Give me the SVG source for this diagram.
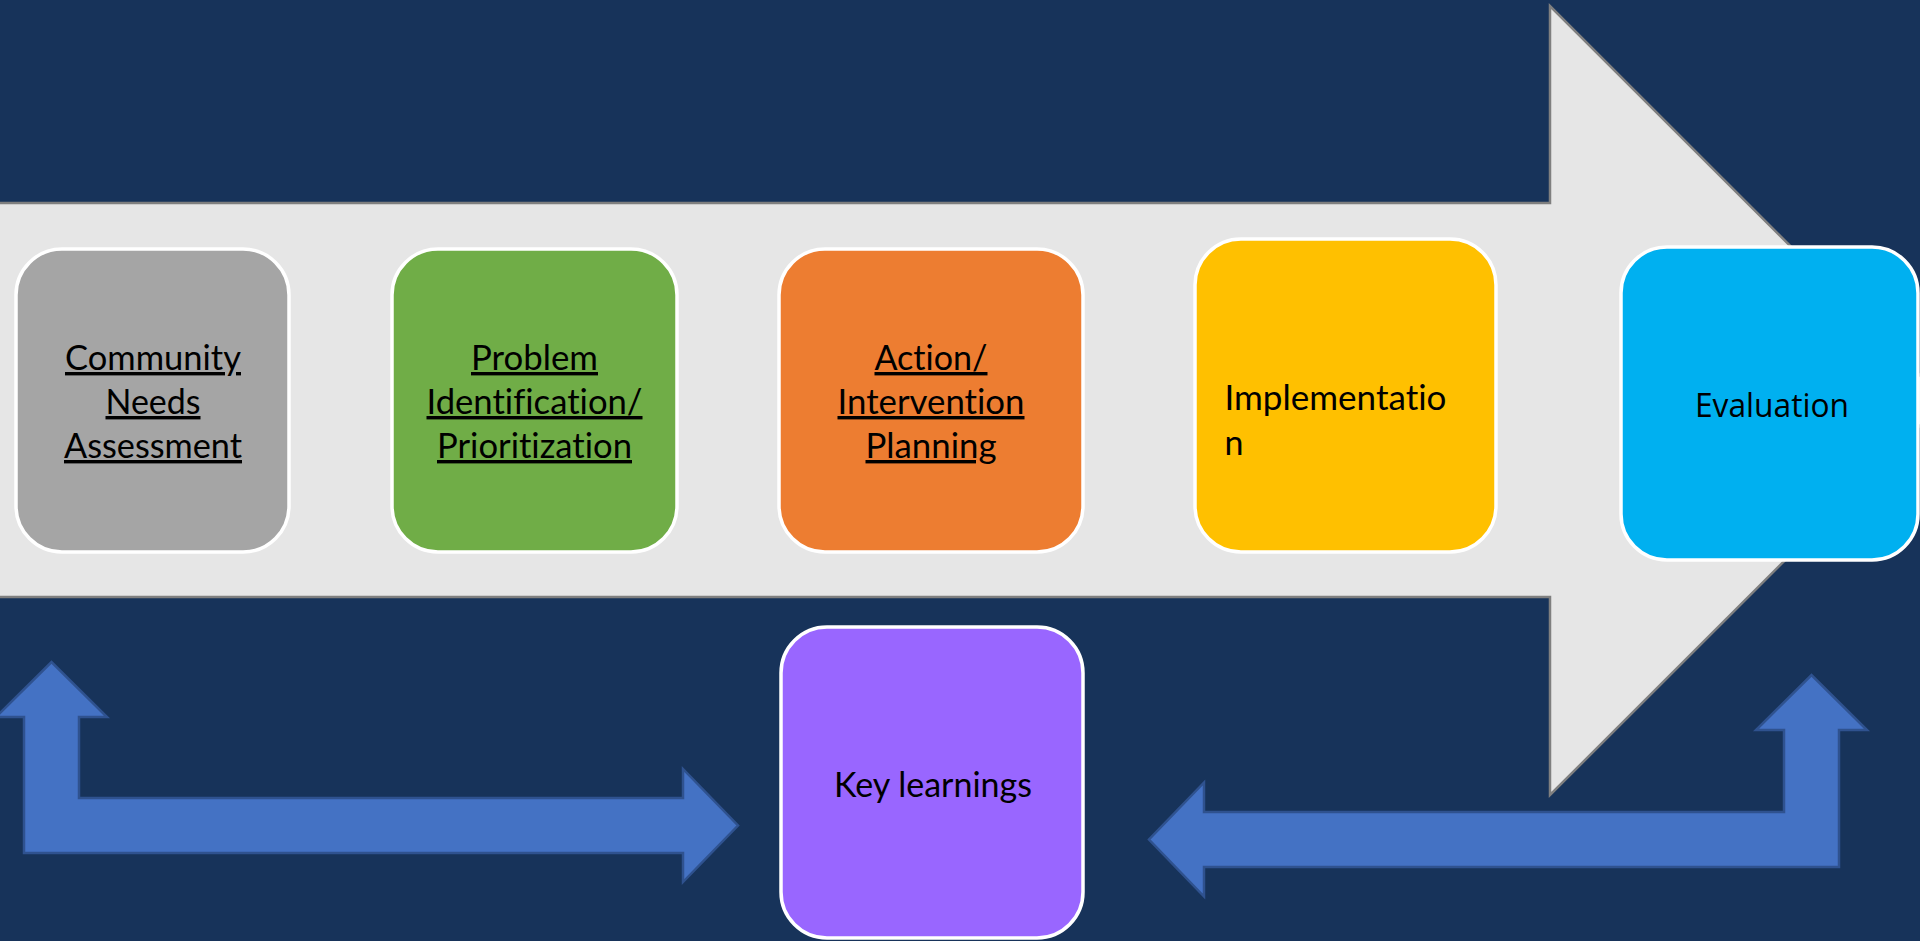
<svg xmlns="http://www.w3.org/2000/svg" width="1920" height="941" viewBox="0 0 1920 941">
<style>
.bg{fill:#17335a}
.big{fill:#e6e6e6;stroke:#7f7f7f;stroke-width:2.5}
.box{stroke:#ffffff;stroke-width:3.5}
.blue{fill:#4472c4;stroke:#2f528f;stroke-width:2.5;stroke-linejoin:miter}
.t{font-family:Lato,"Liberation Sans",sans-serif;font-size:34px;fill:#000000;font-variant-ligatures:none}
.c{text-anchor:middle}
.u{text-decoration:underline;text-decoration-thickness:3px}
.ev{font-family:"Open Sans","DejaVu Sans",sans-serif;font-size:32px;fill:#000000;text-anchor:middle}
</style>
<rect class="bg" x="0" y="0" width="1920" height="941"/>
<g id="process-arrow">
<path class="big" d="M -5,203 L 1550,203 L 1550,6 L 1945,400.5 L 1550,795 L 1550,597 L -5,597 Z"/>
</g>
<g id="connectors">
<path class="blue" d="M 24,717 L -4,717 L 51.5,662 L 107,717 L 79,717 L 79,798 L 683,798 L 683,769 L 738,825.5 L 683,882 L 683,853 L 24,853 Z"/>
<path class="blue" d="M 1204,782.5 L 1149,839.5 L 1204,896.5 L 1204,867 L 1839,867 L 1839,730 L 1867,730 L 1811.5,675 L 1756,730 L 1784,730 L 1784,812 L 1204,812 Z"/>
</g>
<g id="community-needs-assessment">
<rect class="box" x="16" y="249" width="273" height="303" rx="46" ry="46" fill="#a5a5a5"/>
<text class="t c u" x="153" y="370" textLength="176" lengthAdjust="spacingAndGlyphs">Community</text>
<text class="t c u" x="153" y="414" textLength="95" lengthAdjust="spacingAndGlyphs">Needs</text>
<text class="t c u" x="153" y="458" textLength="178" lengthAdjust="spacingAndGlyphs">Assessment</text>
</g>
<g id="problem-identification">
<rect class="box" x="392" y="249" width="285" height="303" rx="46" ry="46" fill="#70ad47"/>
<text class="t c u" x="534.5" y="370" textLength="127" lengthAdjust="spacingAndGlyphs">Problem</text>
<text class="t c u" x="534.5" y="414" textLength="216" lengthAdjust="spacingAndGlyphs">Identification/</text>
<text class="t c u" x="534.5" y="458" textLength="195" lengthAdjust="spacingAndGlyphs">Prioritization</text>
</g>
<g id="action-planning">
<rect class="box" x="779" y="249" width="304" height="303" rx="46" ry="46" fill="#ed7d31"/>
<text class="t c u" x="931" y="370" textLength="113" lengthAdjust="spacingAndGlyphs">Action/</text>
<text class="t c u" x="931" y="414" textLength="187" lengthAdjust="spacingAndGlyphs">Intervention</text>
<text class="t c u" x="931" y="458" textLength="131" lengthAdjust="spacingAndGlyphs">Planning</text>
</g>
<g id="implementation">
<rect class="box" x="1195" y="239" width="301" height="313" rx="46" ry="46" fill="#ffc000"/>
<text class="t" x="1224.5" y="410" textLength="222" lengthAdjust="spacingAndGlyphs">Implementatio</text>
<text class="t" x="1224.5" y="455">n</text>
</g>
<g id="evaluation">
<rect class="box" x="1621" y="247" width="297" height="313" rx="46" ry="46" fill="#00b0f0"/>
<text class="ev" x="1772" y="417" textLength="154" lengthAdjust="spacingAndGlyphs">Evaluation</text>
</g>
<g id="key-learnings">
<rect class="box" x="781" y="627" width="302" height="311" rx="46" ry="46" fill="#9966ff"/>
<text class="t c" x="933" y="797" textLength="198" lengthAdjust="spacingAndGlyphs">Key learnings</text>
</g>
</svg>
